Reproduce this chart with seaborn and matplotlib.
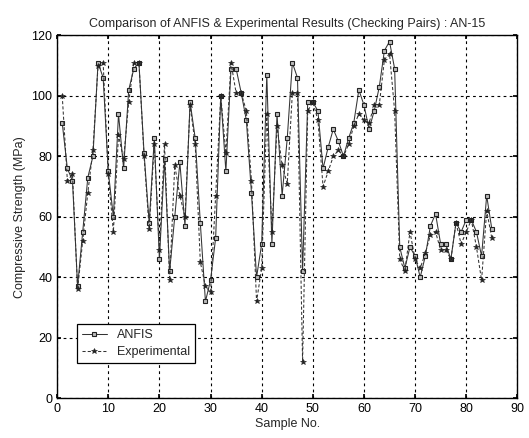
import matplotlib
matplotlib.use("Agg")
import matplotlib.pyplot as plt
import seaborn as sns
import pandas as pd

sample_no = list(range(1, 86))
anfis = [91, 76, 72, 37, 55, 73, 80, 111, 106, 75,
         60, 94, 76, 102, 109, 111, 81, 58, 86, 46,
         79, 42, 60, 78, 57, 98, 86, 58, 32, 39,
         53, 100, 75, 109, 109, 101, 92, 68, 40, 51,
         107, 51, 94, 67, 86, 111, 106, 42, 98, 98,
         95, 76, 83, 89, 85, 80, 86, 91, 102, 97,
         89, 95, 103, 115, 118, 109, 50, 43, 50, 47,
         40, 47, 57, 61, 51, 51, 46, 58, 55, 59,
         59, 55, 47, 67, 56]
experimental = [100, 72, 74, 36, 52, 68, 82, 110, 111, 74,
                55, 87, 79, 98, 111, 111, 80, 56, 84, 49,
                84, 39, 77, 67, 60, 97, 84, 45, 37, 35,
                67, 100, 81, 111, 101, 101, 95, 72, 32, 43,
                94, 55, 90, 77, 71, 101, 101, 12, 95, 98,
                92, 70, 75, 80, 82, 80, 84, 90, 94, 92,
                91, 97, 97, 112, 114, 95, 46, 42, 55, 46,
                43, 48, 54, 55, 49, 49, 46, 58, 51, 55,
                59, 50, 39, 62, 53]

x_ticks = [0, 10, 20, 30, 40, 50, 60, 70, 80, 90]
y_ticks = [0, 20, 40, 60, 80, 100, 120]

df = pd.DataFrame({"Sample": sample_no, "ANFIS": anfis, "Experimental": experimental})

sns.set_theme(style="white")
plt.rcParams["font.family"] = ["Liberation Sans", "DejaVu Sans"]

fig = plt.figure(figsize=(5.29, 4.38), dpi=100)
ax = fig.add_axes([0.108, 0.091, 0.870, 0.828])

line_col = "#333333"
sns.lineplot(data=df, x="Sample", y="ANFIS", ax=ax, color=line_col, linewidth=0.75,
             linestyle="-", marker="s", markersize=3.0, markerfacecolor="#bbbbbb",
             markeredgecolor="#222222", markeredgewidth=0.8, label="ANFIS")
sns.lineplot(data=df, x="Sample", y="Experimental", ax=ax, color=line_col, linewidth=0.75,
             linestyle=(0, (3, 2)), marker="*", markersize=4.0, markerfacecolor="#222222",
             markeredgecolor="#222222", markeredgewidth=0.4, label="Experimental")

ax.set_xlim(0, 90)
ax.set_ylim(0, 120)
ax.set_xticks(x_ticks)
ax.set_yticks(y_ticks)
ax.tick_params(direction="in", length=3, labelsize=9, colors="black", top=True, right=True,
               bottom=True, left=True)
ax.grid(True, linestyle=(0, (2.5, 3)), color="black", linewidth=0.8)
for s in ax.spines.values():
    s.set_color("black")
    s.set_linewidth(1.0)

ax.set_title("Comparison of ANFIS & Experimental Results (Checking Pairs) : AN-15", fontsize=9, pad=6)
ax.set_xlabel("Sample No.", fontsize=9, labelpad=2)
ax.set_ylabel("Compressive Strength (MPa)", fontsize=9, labelpad=4)

leg = ax.legend(loc="lower left", bbox_to_anchor=(0.043, 0.097), borderaxespad=0,
                fontsize=9, frameon=True, fancybox=False, edgecolor="black",
                handlelength=2.0, borderpad=0.4, labelspacing=0.4, framealpha=1)
leg.get_frame().set_linewidth(0.9)

fig.savefig("out.png", dpi=100, facecolor="white")
